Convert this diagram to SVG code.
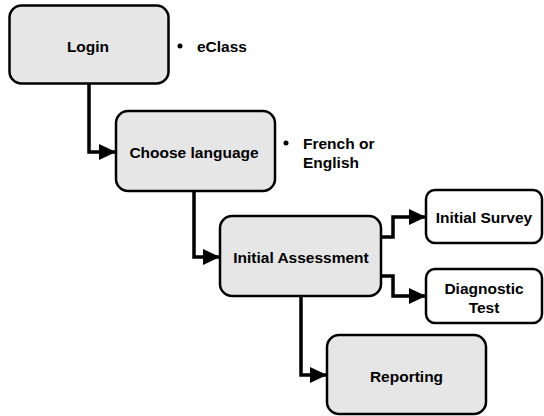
<svg xmlns="http://www.w3.org/2000/svg" width="544" height="416" viewBox="0 0 544 416">
<style>
.box{fill:#e6e6e6;stroke:#000;stroke-width:2.5}
.wbox{fill:#fff;stroke:#000;stroke-width:2.5}
.t{font-family:"Liberation Sans",Arial,sans-serif;font-weight:bold;font-size:15.5px;fill:#000;text-anchor:middle;dominant-baseline:central}
.n{font-family:"Liberation Sans",Arial,sans-serif;font-weight:bold;font-size:15.5px;fill:#000;dominant-baseline:central}
.c{fill:none;stroke:#000;stroke-width:3.5;stroke-linejoin:miter}
</style>
<defs>
<marker id="ah" viewBox="0 0 17 16" refX="16" refY="8" markerWidth="17" markerHeight="16" markerUnits="userSpaceOnUse" orient="auto">
<path d="M0,0 L17,8 L0,16 Z" fill="#000"/>
</marker>
</defs>
<rect width="544" height="416" fill="#fff"/>
<g id="connectors">
<path class="c" d="M89,84 V152 H115" marker-end="url(#ah)"/>
<path class="c" d="M194,191 V257 H219" marker-end="url(#ah)"/>
<path class="c" d="M381,237 H393 V217 H425" marker-end="url(#ah)"/>
<path class="c" d="M381,276 H393 V296 H425" marker-end="url(#ah)"/>
<path class="c" d="M301,296 V375 H326" marker-end="url(#ah)"/>
</g>
<g id="login">
<rect class="box" x="9.5" y="5.5" width="159" height="78" rx="12"/>
<text class="t" x="88" y="46">Login</text>
</g>
<g id="note-eclass">
<circle cx="180" cy="46" r="2.5" fill="#000"/>
<text class="n" x="197" y="46">eClass</text>
</g>
<g id="choose-language">
<rect class="box" x="116" y="111" width="159" height="80" rx="12"/>
<text class="t" x="194" y="152">Choose language</text>
</g>
<g id="note-language">
<circle cx="286" cy="143" r="2.5" fill="#000"/>
<text class="n" x="303" y="143">French or</text>
<text class="n" x="303" y="162">English</text>
</g>
<g id="initial-assessment">
<rect class="box" x="220" y="216" width="161" height="80" rx="12"/>
<text class="t" x="301" y="257">Initial Assessment</text>
</g>
<g id="initial-survey">
<rect class="wbox" x="426" y="190" width="116" height="53" rx="9"/>
<text class="t" x="484" y="217">Initial Survey</text>
</g>
<g id="diagnostic-test">
<rect class="wbox" x="426" y="269" width="116" height="54" rx="9"/>
<text class="t" x="484" y="288">Diagnostic</text>
<text class="t" x="484" y="307">Test</text>
</g>
<g id="reporting">
<rect class="box" x="327" y="335" width="159" height="79" rx="12"/>
<text class="t" x="406.5" y="376">Reporting</text>
</g>
</svg>
